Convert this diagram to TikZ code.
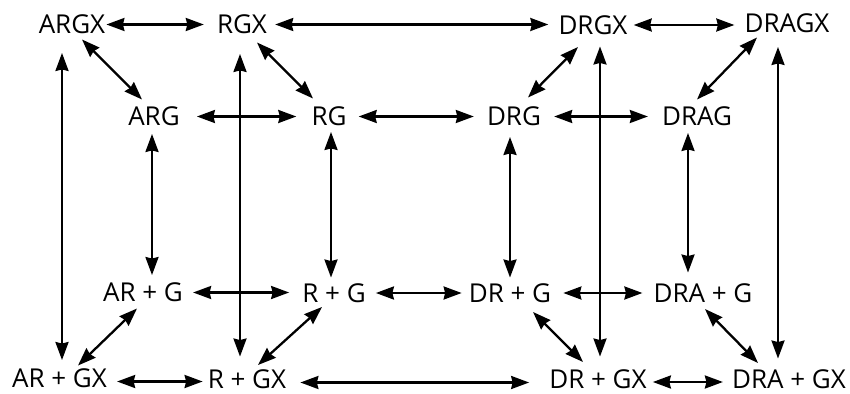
\documentclass[tikz,border=0pt]{standalone}
\usepackage{fontspec}
\setmainfont{Open Sans}
\usetikzlibrary{arrows.meta,calc}
\begin{document}
\begin{tikzpicture}[x=1pt,y=-1pt,
  lbl/.style={inner sep=0pt, text height=18.5pt, text depth=0pt, font=\fontsize{26}{28}\selectfont},
  arr/.style={line width=2.3pt, {Stealth[length=18pt,width=13pt,inset=1.5pt]}-{Stealth[length=18pt,width=13pt,inset=1.5pt]}}]
\useasboundingbox (0,0) rectangle (850,393);
% top row
\node[lbl] (argx)  at (72,24.5)  {ARGX};
\node[lbl] (rgx)   at (242,24.5) {RGX};
\node[lbl] (drgx)  at (593,25)   {DRGX};
\node[lbl] (dragx) at (787,23.5) {DRAGX};
% second row
\node[lbl] (arg)  at (154,116.5) {ARG};
\node[lbl] (rg)   at (329,116.5) {RG};
\node[lbl] (drg)  at (514,116.5) {DRG};
\node[lbl] (drag) at (697,116.5) {DRAG};
% third row
\node[lbl] (arpg)  at (143,292.5) {AR + G};
\node[lbl] (rpg)   at (334,293)   {R + G};
\node[lbl] (drpg)  at (510,293)   {DR + G};
\node[lbl] (drapg) at (703,293)   {DRA + G};
% bottom row
\node[lbl] (arpgx)  at (59.5,378.5) {AR + GX};
\node[lbl] (rpgx)   at (247,379)    {R + GX};
\node[lbl] (drpgx)  at (598,379)    {DR + GX};
\node[lbl] (drapgx) at (789,379)    {DRA + GX};

% horizontal arrows
\draw[arr, shorten <=1pt,  shorten >=13pt] (argx.east) -- (argx.east -| rgx.west);
\draw[arr, shorten <=8pt,  shorten >=10pt] (rgx.east) -- (rgx.east -| drgx.west);
\draw[arr, shorten <=6pt,  shorten >=10pt] (drgx.east) -- (drgx.east -| dragx.west);
\draw[arr, shorten <=17pt, shorten >=15pt] (arg.east) -- (arg.east -| rg.west);
\draw[arr, shorten <=12pt, shorten >=13pt] (rg.east) -- (rg.east -| drg.west);
\draw[arr, shorten <=13pt, shorten >=14pt] (drg.east) -- (drg.east -| drag.west);
\draw[arr, shorten <=10pt, shorten >=13pt] (arpg.east) -- (arpg.east -| rpg.west);
\draw[arr, shorten <=10pt, shorten >=7pt]  (rpg.east) -- (rpg.east -| drpg.west);
\draw[arr, shorten <=12pt, shorten >=11pt] (drpg.east) -- (drpg.east -| drapg.west);
\draw[arr, shorten <=10pt, shorten >=5pt]  ([yshift=-3pt]arpgx.east) -- ([yshift=-3pt]arpgx.east -| rpgx.west);
\draw[arr, shorten <=14pt, shorten >=20pt] ([yshift=-3.5pt]rpgx.east) -- ([yshift=-3.5pt]rpgx.east -| drpgx.west);
\draw[arr, shorten <=6pt,  shorten >=9pt]  ([yshift=-3pt]drpgx.east) -- ([yshift=-3pt]drpgx.east -| drapgx.west);

% short vertical arrows
\draw[arr, shorten <=8pt, shorten >=8pt] ([xshift=-2pt]arg.south) -- ([xshift=9pt]arpg.north);
\draw[arr, shorten <=6pt, shorten >=6pt] ([xshift=2pt]rg.south) -- ([xshift=-3pt]rpg.north);
\draw[arr, shorten <=11pt, shorten >=6pt] ([xshift=-4pt]drg.south) -- ([xshift=0pt]drpg.north);
\draw[arr, shorten <=7pt, shorten >=11pt] ([xshift=-9pt]drag.south) -- ([xshift=-15pt]drapg.north);

% long vertical arrows
\draw[arr, shorten <=19pt, shorten >=9pt] ([xshift=-10pt]argx.south) -- ([xshift=2.5pt]arpgx.north);
\draw[arr, shorten <=20pt, shorten >=13pt] ([xshift=-2pt]rgx.south) -- ([xshift=-7pt]rpgx.north);
\draw[arr, shorten <=12pt, shorten >=13pt] ([xshift=7pt]drgx.south) -- ([xshift=2pt]drpgx.north);
\draw[arr, shorten <=14pt, shorten >=11pt] ([xshift=-9pt]dragx.south) -- ([xshift=-11pt]drapgx.north);

% diagonal arrows
\draw[arr] ($(argx)+(10,15)$) -- ($(arg)+(-12,-17)$);
\draw[arr] ($(rgx)+(15,18)$) -- ($(rg)+(-16,-18)$);
\draw[arr] ($(drgx)+(-15,22)$) -- ($(drg)+(14,-19)$);
\draw[arr] ($(dragx)+(-30,14)$) -- ($(drag)+(0,-17)$);
\draw[arr] ($(arpgx)+(18.5,-13)$) -- ($(arpg)+(-6,16)$);
\draw[arr] ($(rpgx)+(11,-14)$) -- ($(rpg)+(-12,14)$);
\draw[arr] ($(drpg)+(23,19)$) -- ($(drpgx)+(-15,-17)$);
\draw[arr] ($(drapg)+(2,16)$) -- ($(drapgx)+(-31,-16)$);
\end{tikzpicture}
\end{document}
